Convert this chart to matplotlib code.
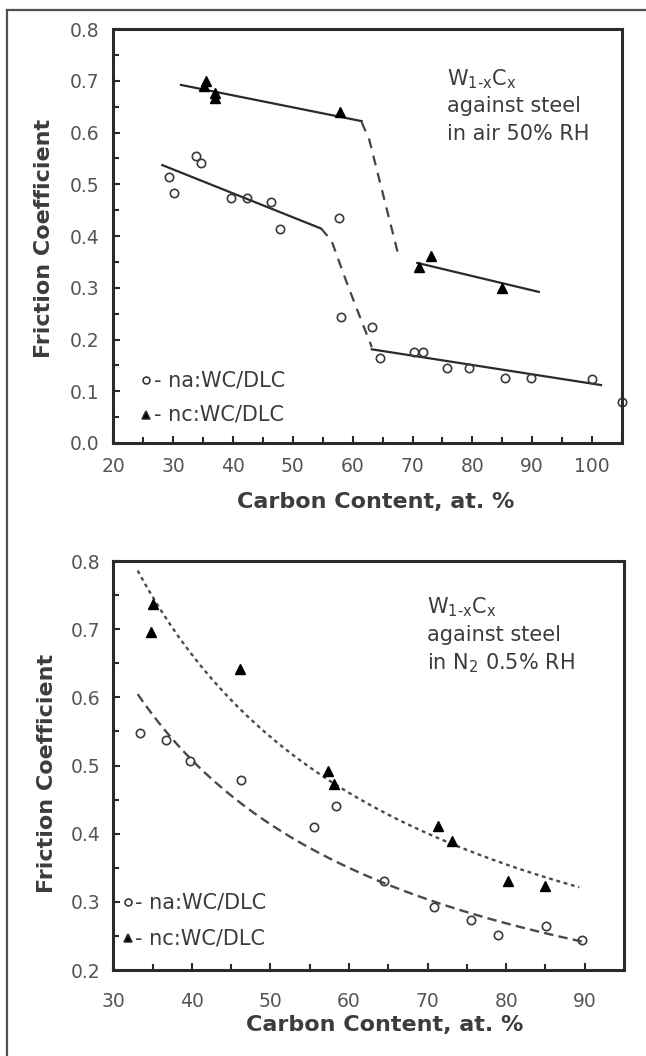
import numpy as np
import matplotlib
matplotlib.use("Agg")
import matplotlib.pyplot as plt
from matplotlib.lines import Line2D
from matplotlib.ticker import MultipleLocator, FormatStrFormatter

plt.rcParams['font.family'] = ['DejaVu Sans']

INK = '#2a2a2a'
TEXT = '#3c3c3c'

# --- air, 50% RH ---
air_na_x = [29.3, 30.1, 33.9, 34.7, 39.7, 42.4, 46.4, 47.8, 57.7, 58.1, 63.2,
            64.6, 70.3, 71.7, 75.8, 79.4, 85.4, 89.8, 100.0, 105.0]
air_na_y = [0.514, 0.483, 0.555, 0.542, 0.473, 0.473, 0.465, 0.413, 0.434, 0.243, 0.224,
            0.164, 0.175, 0.175, 0.145, 0.145, 0.125, 0.125, 0.124, 0.080]
air_nc_x = [35.2, 35.5, 37.0, 37.0, 57.8, 71.0, 73.1, 85.0]
air_nc_y = [0.690, 0.700, 0.667, 0.676, 0.640, 0.340, 0.361, 0.300]

# straight trend segments and the dashed transitions between them
air_nc_low_x, air_nc_low_y = [31.3, 61.5], [0.692, 0.622]
air_nc_high_x, air_nc_high_y = [70.8, 91.1], [0.348, 0.292]
air_nc_step_x = [61.5, 62.8, 65.3, 67.6]
air_nc_step_y = [0.620, 0.585, 0.470, 0.365]
air_na_low_x, air_na_low_y = [28.2, 54.6], [0.537, 0.415]
air_na_high_x, air_na_high_y = [63.2, 101.5], [0.181, 0.112]
air_na_step_x = [54.7, 56.5, 59.0, 61.5, 63.2]
air_na_step_y = [0.415, 0.390, 0.310, 0.235, 0.185]

# --- N2, 0.5% RH ---
n2_na_x = [33.4, 36.7, 39.7, 46.2, 55.6, 58.3, 64.4, 70.8, 75.5, 79.0, 85.1, 89.6]
n2_na_y = [0.548, 0.537, 0.507, 0.479, 0.410, 0.441, 0.331, 0.292, 0.273, 0.251, 0.264, 0.244]
n2_nc_x = [34.8, 35.1, 46.1, 57.3, 58.1, 71.3, 73.1, 80.2, 84.9]
n2_nc_y = [0.696, 0.737, 0.641, 0.492, 0.473, 0.412, 0.389, 0.331, 0.324]

# power-law fits  mu = a * C^b
n2_nc_fit = (18.4, -0.901, 33.1, 89.3)
n2_na_fit = (15.13, -0.920, 33.1, 90.0)

FORMULA = r'W$_{\mathregular{1\text{-}x}}$C$_{\mathregular{x}}$'


def style_axes(ax, xlim, ylim, xmajor, xpad, ypad):
    ax.set_xlim(*xlim)
    ax.set_ylim(*ylim)
    ax.xaxis.set_major_locator(MultipleLocator(xmajor))
    ax.xaxis.set_minor_locator(MultipleLocator(5))
    ax.yaxis.set_major_locator(MultipleLocator(0.1))
    ax.yaxis.set_minor_locator(MultipleLocator(0.05))
    ax.yaxis.set_major_formatter(FormatStrFormatter('%.1f'))
    ax.tick_params(which='both', direction='in', width=1.5, color=INK,
                   labelsize=13.5, labelcolor='#555555')
    ax.tick_params(which='major', length=5)
    ax.tick_params(which='minor', length=4)
    ax.tick_params(axis='x', pad=xpad)
    ax.tick_params(axis='y', pad=ypad)
    for s in ax.spines.values():
        s.set_linewidth(2.2)
        s.set_color(INK)


def legend_rows(ax, mx, tx, rows):
    for y, marker, face, label in rows:
        ax.plot([mx], [y], marker=marker, ms=5 if marker == 'o' else 6,
                mfc=face, mec=INK, mew=1.1, transform=ax.transAxes, clip_on=False)
        ax.text(tx, y, '- ' + label, transform=ax.transAxes, va='center',
                ha='left', fontsize=15, color=TEXT)


def note(ax, x, ys, lines):
    for y, s in zip(ys, lines):
        ax.text(x, y, s, transform=ax.transAxes, va='baseline', ha='left',
                fontsize=15, color=TEXT)


fig = plt.figure(figsize=(6.46, 10.56), dpi=100)
fig.add_artist(Line2D([0.0108, 1.0], [0.9905, 0.9905], transform=fig.transFigure,
                      color='#505050', lw=1.6))
fig.add_artist(Line2D([0.0108, 0.0108], [0.0, 0.9905], transform=fig.transFigure,
                      color='#505050', lw=1.6))

# top panel: humid air
ax1 = fig.add_axes([0.1754, 0.5805, 0.7874, 0.392])
style_axes(ax1, (20, 105), (0.0, 0.8), 10, 10, 10)
ax1.plot(air_nc_low_x, air_nc_low_y, color=INK, lw=1.6)
ax1.plot(air_nc_high_x, air_nc_high_y, color=INK, lw=1.6)
ax1.plot(air_na_low_x, air_na_low_y, color=INK, lw=1.6)
ax1.plot(air_na_high_x, air_na_high_y, color=INK, lw=1.6)
ax1.plot(air_nc_step_x, air_nc_step_y, color='#444444', lw=1.6, ls=(0, (4.5, 3.5)))
ax1.plot(air_na_step_x, air_na_step_y, color='#444444', lw=1.6, ls=(0, (4.5, 3.5)))
ax1.plot(air_na_x, air_na_y, 'o', ms=6, mfc='none', mec='#3a3a3a', mew=1.2, clip_on=False)
ax1.plot(air_nc_x, air_nc_y, '^', ms=7.5, mfc='black', mec='black')
ax1.set_xlabel('Carbon Content, at. %', fontsize=16, fontweight='bold', color=TEXT)
ax1.set_ylabel('Friction Coefficient', fontsize=16, fontweight='bold', color=TEXT)
ax1.xaxis.set_label_coords(0.516, -0.118)
ax1.yaxis.set_label_coords(-0.116, 0.493)
note(ax1, 0.656, [0.865, 0.800, 0.732], [FORMULA, 'against steel', 'in air 50% RH'])
legend_rows(ax1, 0.064, 0.080, [(0.152, 'o', 'white', 'na:WC/DLC'),
                                (0.068, '^', 'black', 'nc:WC/DLC')])

# bottom panel: dry nitrogen
ax2 = fig.add_axes([0.1754, 0.0814, 0.7906, 0.3873])
style_axes(ax2, (30, 95), (0.2, 0.8), 10, 16, 9)
for (a, b, x0, x1), ls in [(n2_nc_fit, (0, (1.6, 1.6))), (n2_na_fit, (0, (4.0, 2.2)))]:
    xs = np.linspace(x0, x1, 200)
    ax2.plot(xs, a * xs ** b, color='#4a4a4a', lw=1.7, ls=ls)
ax2.plot(n2_na_x, n2_na_y, 'o', ms=6, mfc='none', mec='#3a3a3a', mew=1.2)
ax2.plot(n2_nc_x, n2_nc_y, '^', ms=7.5, mfc='black', mec='black')
ax2.set_xlabel('Carbon Content, at. %', fontsize=16, fontweight='bold', color=TEXT)
ax2.set_ylabel('Friction Coefficient', fontsize=16, fontweight='bold', color=TEXT)
ax2.xaxis.set_label_coords(0.532, -0.110)
ax2.yaxis.set_label_coords(-0.111, 0.48)
note(ax2, 0.614, [0.873, 0.804, 0.736],
     [FORMULA, 'against steel', r'in N$_{\mathregular{2}}$ 0.5% RH'])
legend_rows(ax2, 0.029, 0.042, [(0.166, 'o', 'white', 'na:WC/DLC'),
                                (0.078, '^', 'black', 'nc:WC/DLC')])

fig.savefig('out.png', dpi=100)
